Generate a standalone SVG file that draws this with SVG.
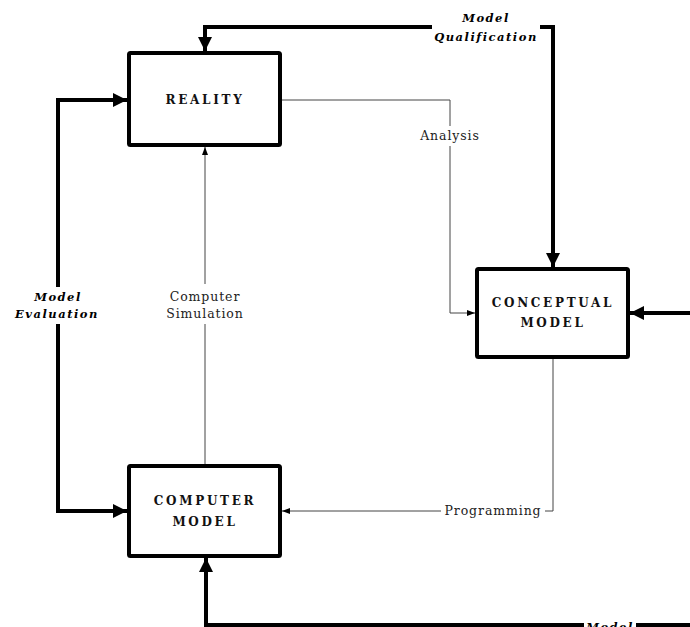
<svg xmlns="http://www.w3.org/2000/svg" width="690" height="627" viewBox="0 0 690 627">
  <style>
    .box { fill: #fff; stroke: #000; stroke-width: 4; }
    .title { font-family: "DejaVu Serif", "Liberation Serif", serif; font-weight: bold; font-size: 12px; letter-spacing: 2.7px; text-anchor: middle; fill: #111; }
    .thick { fill: none; stroke: #000; stroke-width: 4; }
    .thin { fill: none; stroke: #444; stroke-width: 1; }
    .lbl { font-family: "DejaVu Serif", "Liberation Serif", serif; font-size: 12.5px; letter-spacing: 0.9px; text-anchor: middle; fill: #222; }
    .blbl { font-family: "DejaVu Serif", "Liberation Serif", serif; font-weight: bold; font-style: italic; font-size: 11.5px; letter-spacing: 1.5px; text-anchor: middle; fill: #000; }
  </style>
  <defs>
    <marker id="bigArrow" markerUnits="userSpaceOnUse" markerWidth="14" markerHeight="14" viewBox="0 0 14 14" refX="14" refY="7" orient="auto">
      <path d="M0,0 L14,7 L0,14 Z" fill="#000"/>
    </marker>
    <marker id="smallArrow" markerUnits="userSpaceOnUse" markerWidth="8" markerHeight="8" viewBox="0 0 8 8" refX="8" refY="4" orient="auto">
      <path d="M0,1 L8,4 L0,7 Z" fill="#000"/>
    </marker>
  </defs>

  <g id="connectors">
    <!-- Model Qualification: conceptual model back to reality -->
    <path class="thick" d="M432,27 L205,27 L205,51" marker-end="url(#bigArrow)"/>
    <path class="thick" d="M540,27 L553,27 L553,267" marker-end="url(#bigArrow)"/>
    <!-- Model Evaluation -->
    <path class="thick" d="M58,287 L58,100 L127,100" marker-end="url(#bigArrow)"/>
    <path class="thick" d="M58,324 L58,511 L127,511" marker-end="url(#bigArrow)"/>
    <!-- Incoming from the right edge -->
    <path class="thick" d="M690,313 L630,313" marker-end="url(#bigArrow)"/>
    <!-- Bottom loop into the computer model -->
    <path class="thick" d="M584,625 L206,625 L206,558" marker-end="url(#bigArrow)"/>
    <path class="thick" d="M636,625 L690,625"/>
    <!-- Analysis -->
    <path class="thin" d="M282,100 L450,100 L450,126"/>
    <path class="thin" d="M450,146 L450,313 L475,313" marker-end="url(#smallArrow)"/>
    <!-- Programming -->
    <path class="thin" d="M553,359 L553,511 L545,511"/>
    <path class="thin" d="M441,511 L282,511" marker-end="url(#smallArrow)"/>
    <!-- Computer Simulation -->
    <path class="thin" d="M205,464 L205,324"/>
    <path class="thin" d="M205,284 L205,147" marker-end="url(#smallArrow)"/>

    <text class="blbl" x="486" y="22">Model</text>
    <text class="blbl" x="486" y="41">Qualification</text>
    <text class="blbl" x="58" y="301">Model</text>
    <text class="blbl" x="57" y="318">Evaluation</text>
    <text class="blbl" x="610" y="631">Model</text>
    <text class="lbl" x="450" y="140">Analysis</text>
    <text class="lbl" x="493" y="515">Programming</text>
    <text class="lbl" x="205" y="301">Computer</text>
    <text class="lbl" x="205" y="318">Simulation</text>
  </g>

  <g id="reality">
    <rect class="box" x="129" y="53" width="151" height="92" rx="1.5"/>
    <text class="title" x="205" y="104">REALITY</text>
  </g>
  <g id="conceptual-model">
    <rect class="box" x="477" y="269" width="151" height="88" rx="1.5"/>
    <text class="title" x="553" y="307">CONCEPTUAL</text>
    <text class="title" x="553" y="327">MODEL</text>
  </g>
  <g id="computer-model">
    <rect class="box" x="129" y="466" width="151" height="90" rx="1.5"/>
    <text class="title" x="205" y="505">COMPUTER</text>
    <text class="title" x="205" y="526">MODEL</text>
  </g>
</svg>
